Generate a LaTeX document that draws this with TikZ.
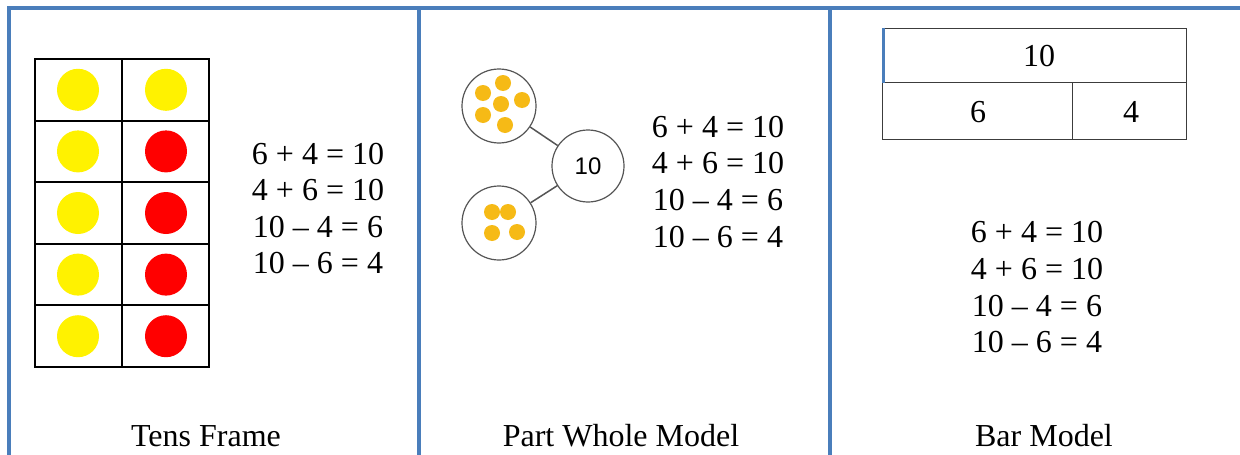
\documentclass[tikz,border=0pt]{standalone}
\usepackage{fontspec}
\setmainfont{Liberation Serif}
\newfontfamily\arialfont{Liberation Sans}
\definecolor{tblblue}{RGB}{74,126,187}
\definecolor{dotorange}{RGB}{246,186,22}
\definecolor{ringgray}{RGB}{85,85,85}
\definecolor{bargray}{RGB}{60,60,60}
\begin{document}
\begin{tikzpicture}[x=1pt,y=-1pt,
  tblline/.style={draw=tblblue,line width=4pt},
  framebox/.style={draw=black,line width=2pt},
  ydot/.style={circle,fill=yellow,inner sep=0pt,minimum size=42pt},
  rdot/.style={circle,fill=red,inner sep=0pt,minimum size=42pt},
  odot/.style={circle,fill=dotorange,inner sep=0pt,minimum size=16pt},
  ring/.style={circle,draw=ringgray,line width=1.2pt,inner sep=0pt,minimum size=#1},
  link/.style={draw=ringgray,line width=1.5pt},
  eq/.style={font=\fontsize{32}{36}\selectfont,anchor=base,inner sep=0pt},
  barbox/.style={draw=bargray,line width=1pt,inner sep=0pt,font=\fontsize{32}{36}\selectfont},
]
\useasboundingbox (0,0) rectangle (1240,455);
\fill[white] (0,0) rectangle (1240,455);

% table lines
\draw[tblline] (7,8) -- (1240,8);
\draw[tblline] (9,6) -- (9,455);
\draw[tblline] (419,8) -- (419,455);
\draw[tblline] (830,8) -- (830,455);

% ---- Tens frame ----
\draw[framebox] (35,59) rectangle (209,367);
\draw[framebox] (122,59) -- (122,367);
\foreach \k in {1,2,3,4} \draw[framebox] (35,59+61.6*\k) -- (209,59+61.6*\k);
\foreach \k in {0,...,4} \node[ydot] (yl\k) at (78,89.8+61.6*\k) {};
\node[ydot] (yr0) at (166,89.8) {};
\foreach \k in {1,...,4} \node[rdot] (rr\k) at (166,89.8+61.6*\k) {};

\node[eq] (t1) at (318,164) {6 + 4 = 10};
\node[eq] (t2) at (318,200.5) {4 + 6 = 10};
\node[eq] (t3) at (318,237) {10 – 4 = 6};
\node[eq] (t4) at (318,273.5) {10 – 6 = 4};

% ---- Part whole ----
\node[ring=74pt] (ptop) at (499,106) {};
\node[ring=74pt] (pbot) at (499,223) {};
\node[ring=72pt,font=\arialfont\fontsize{24}{28}\selectfont] (whole) at (588,166) {10};
\draw[link] (ptop) -- (whole);
\draw[link] (pbot) -- (whole);
\node[odot] (a1) at (503,83) {};
\node[odot] (a2) at (483,93) {};
\node[odot] (a3) at (522,100) {};
\node[odot] (a4) at (501,104) {};
\node[odot] (a5) at (483,115) {};
\node[odot] (a6) at (505,125) {};
\node[odot] (b1) at (492,212) {};
\node[odot] (b2) at (508,212) {};
\node[odot] (b3) at (492,233) {};
\node[odot] (b4) at (517,232) {};

\node[eq] (p1) at (718,137) {6 + 4 = 10};
\node[eq] (p2) at (718,173.5) {4 + 6 = 10};
\node[eq] (p3) at (718,210.5) {10 – 4 = 6};
\node[eq] (p4) at (718,247) {10 – 6 = 4};

% ---- Bar model ----
\node[barbox,minimum width=304pt,minimum height=54pt] (btop) at (1034,55) {};
\node[font=\fontsize{32}{36}\selectfont,anchor=base,inner sep=0pt] (btoplbl) at (1039,66) {10};
\node[barbox,minimum width=190pt,minimum height=57pt] (bl) at (977,110.5) {};
\node[barbox,minimum width=114pt,minimum height=57pt] (br) at (1129,110.5) {};
\node[font=\fontsize{32}{36}\selectfont,anchor=base,inner sep=0pt] (bllbl) at (978,122) {6};
\node[font=\fontsize{32}{36}\selectfont,anchor=base,inner sep=0pt] (brlbl) at (1131,122) {4};
\draw[draw=tblblue,line width=3pt] (btop.north west) ++(1.5,0) -- ([xshift=1.5pt]btop.south west);

\node[eq] (q1) at (1037,242) {6 + 4 = 10};
\node[eq] (q2) at (1037,279) {4 + 6 = 10};
\node[eq] (q3) at (1037,316) {10 – 4 = 6};
\node[eq] (q4) at (1037,352) {10 – 6 = 4};

% captions
\node[eq] (c1) at (206,446) {Tens Frame};
\node[eq] (c2) at (621,446) {Part Whole Model};
\node[eq] (c3) at (1044,446) {Bar Model};
\end{tikzpicture}
\end{document}
